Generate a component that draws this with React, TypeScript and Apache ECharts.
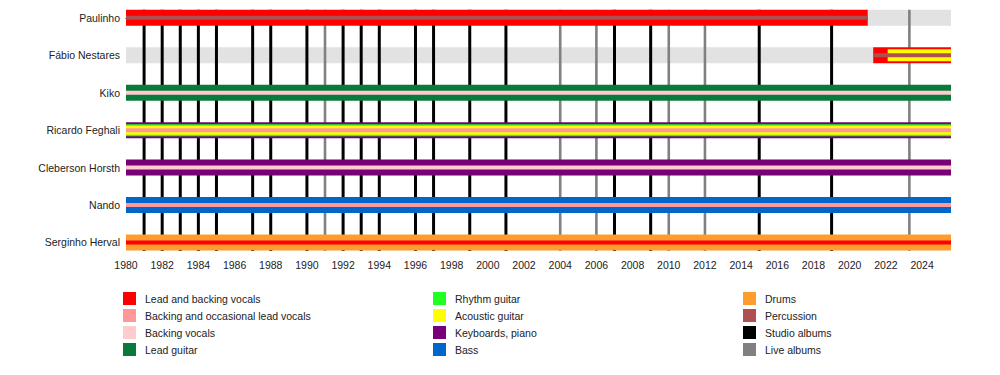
import React, { useEffect, useRef } from "react";
import * as echarts from "echarts";

const START = 1980;
const END = 2025.6;

const members = [
  "Paulinho",
  "Fábio Nestares",
  "Kiko",
  "Ricardo Feghali",
  "Cleberson Horsth",
  "Nando",
  "Serginho Herval",
];

const roleNames = [
  "Lead and backing vocals",
  "Backing and occasional lead vocals",
  "Backing vocals",
  "Lead guitar",
  "Rhythm guitar",
  "Acoustic guitar",
  "Keyboards, piano",
  "Bass",
  "Drums",
  "Percussion",
  "Studio albums",
  "Live albums",
];

const roleColors = [
  "#ff0000",
  "#ff9999",
  "#ffcccc",
  "#0a7a3c",
  "#22ff22",
  "#ffff00",
  "#770077",
  "#0066cc",
  "#ff9c2e",
  "#b04f4f",
  "#000000",
  "#808080",
];

// [start, end, memberIndex, roleIndex, layer]
const memberBars: [number, number, number, number, number][] = [
  [1980, 2021.0, 0, 0, 0],
  [1980, 2021.0, 0, 9, 3],
  [2021.3, END, 1, 0, 0],
  [2022.1, END, 1, 5, 1],
  [2021.3, END, 1, 9, 3],
  [1980, END, 2, 3, 0],
  [1980, END, 2, 2, 3],
  [1980, END, 3, 6, 0],
  [1980, END, 3, 4, 1],
  [1980, END, 3, 5, 2],
  [1980, END, 3, 1, 3],
  [1980, END, 4, 6, 0],
  [1980, END, 4, 2, 3],
  [1980, END, 5, 7, 0],
  [1980, END, 5, 1, 3],
  [1980, END, 6, 8, 0],
  [1980, END, 6, 0, 3],
];

// inactive periods [start, end, memberIndex]
const inactiveBars: [number, number, number][] = [
  [2021.0, END, 0],
  [1980, 2021.3, 1],
];

const studioAlbums = [
  1981, 1982, 1983, 1984, 1985, 1987, 1988, 1990, 1992, 1993, 1994, 1996, 1997,
  1999, 2001, 2007, 2009, 2015, 2019,
];
const liveAlbums = [1991, 2004, 2006, 2010, 2012, 2023.3];

const FONT = "'Liberation Sans', Arial, Helvetica, sans-serif";

export default function App() {
  const ref = useRef<HTMLDivElement>(null);

  useEffect(() => {
    if (!ref.current) return;
    document.body.style.margin = "0";
    const chart = echarts.init(ref.current, null, { renderer: "svg" });

    const layerHeights = [16, 12, 9, 4];

    const albumData = [
      ...studioAlbums.map((y) => [y, 0, 10]),
      ...liveAlbums.map((y) => [y, 0, 11]),
    ];

    const legendGraphics: any[] = [];
    const colX = [123, 433, 743];
    roleNames.forEach((name, i) => {
      const col = Math.floor(i / 4);
      const row = i % 4;
      const y = 292 + row * 17;
      legendGraphics.push({
        type: "rect",
        shape: { x: colX[col], y, width: 13, height: 13 },
        style: { fill: roleColors[i] },
        silent: true,
      });
      legendGraphics.push({
        type: "text",
        x: colX[col] + 22,
        y: y + 7,
        style: {
          text: name,
          fill: "#222",
          font: `10.5px ${FONT}`,
          verticalAlign: "middle",
        },
        silent: true,
      });
    });
    // white mask right of the plot area
    legendGraphics.push({
      type: "rect",
      z: 100,
      shape: { x: 951, y: 4, width: 30, height: 28 },
      style: { fill: "#ffffff" },
      silent: true,
    });

    const rectItem = (x0: number, x1: number, cy: number, h: number, fill: string) => ({
      type: "rect",
      shape: { x: x0, y: cy - h / 2, width: x1 - x0, height: h },
      style: { fill, stroke: "none", lineWidth: 0 },
    });

    chart.setOption({
      animation: false,
      backgroundColor: "#ffffff",
      tooltip: { show: false },
      grid: { left: 126, right: 49, top: 0, bottom: 124, containLabel: false },
      xAxis: {
        type: "value",
        min: START,
        max: END,
        interval: 2,
        axisLine: { show: true, lineStyle: { color: "#000", width: 1 } },
        axisTick: { show: true, length: 5, lineStyle: { color: "#000" } },
        minorTick: { show: true, splitNumber: 2, length: 3, lineStyle: { color: "#000" } },
        splitLine: { show: false },
        minorSplitLine: { show: false },
        axisLabel: {
          color: "#222",
          fontSize: 10.5,
          fontFamily: FONT,
          margin: 8,
          showMaxLabel: false,
          formatter: (v: number) => String(v),
        },
      },
      yAxis: {
        type: "value",
        min: -0.475,
        max: 6.227,
        inverse: true,
        show: false,
        splitLine: { show: false },
        axisLine: { show: false },
        axisTick: { show: false },
        axisLabel: { show: false },
      },
      series: [
        {
          type: "custom",
          z: 1,
          silent: true,
          encode: { x: [0, 1], y: 2 },
          data: inactiveBars,
          renderItem: (params: any, api: any) => {
            const s = api.coord([api.value(0), api.value(2)]);
            const e = api.coord([api.value(1), api.value(2)]);
            return rectItem(s[0], e[0], s[1], layerHeights[0], "#e2e2e2");
          },
        },
        {
          type: "custom",
          z: 2,
          silent: true,
          encode: { x: 0, y: 1 },
          data: albumData,
          renderItem: (params: any, api: any) => {
            const p = api.coord([api.value(0), api.value(1)]);
            const bottom = params.coordSys.y + params.coordSys.height;
            const kind = api.value(2);
            return {
              type: "line",
              shape: { x1: p[0], y1: p[1] - 8, x2: p[0], y2: bottom },
              style: {
                stroke: roleColors[kind],
                lineWidth: kind === 11 ? 2.6 : 3,
                fill: "none",
              },
            };
          },
        },
        {
          type: "custom",
          z: 3,
          silent: true,
          encode: { x: [0, 1], y: 2 },
          data: memberBars,
          renderItem: (params: any, api: any) => {
            const s = api.coord([api.value(0), api.value(2)]);
            const e = api.coord([api.value(1), api.value(2)]);
            return rectItem(s[0], e[0], s[1], layerHeights[api.value(4)], roleColors[api.value(3)]);
          },
        },
        {
          type: "custom",
          z: 4,
          silent: true,
          encode: { x: 0, y: 1 },
          data: members.map((_, i) => [START, i]),
          renderItem: (params: any, api: any) => {
            const p = api.coord([api.value(0), api.value(1)]);
            return {
              type: "text",
              x: p[0] - 6,
              y: p[1],
              style: {
                text: members[params.dataIndex],
                fill: "#222",
                font: `10.5px ${FONT}`,
                align: "right",
                verticalAlign: "middle",
              },
            };
          },
        },
      ],
      graphic: legendGraphics,
    });

    return () => chart.dispose();
  }, []);

  return <div ref={ref} style={{ width: 1000, height: 375, background: "#fff" }} />;
}
